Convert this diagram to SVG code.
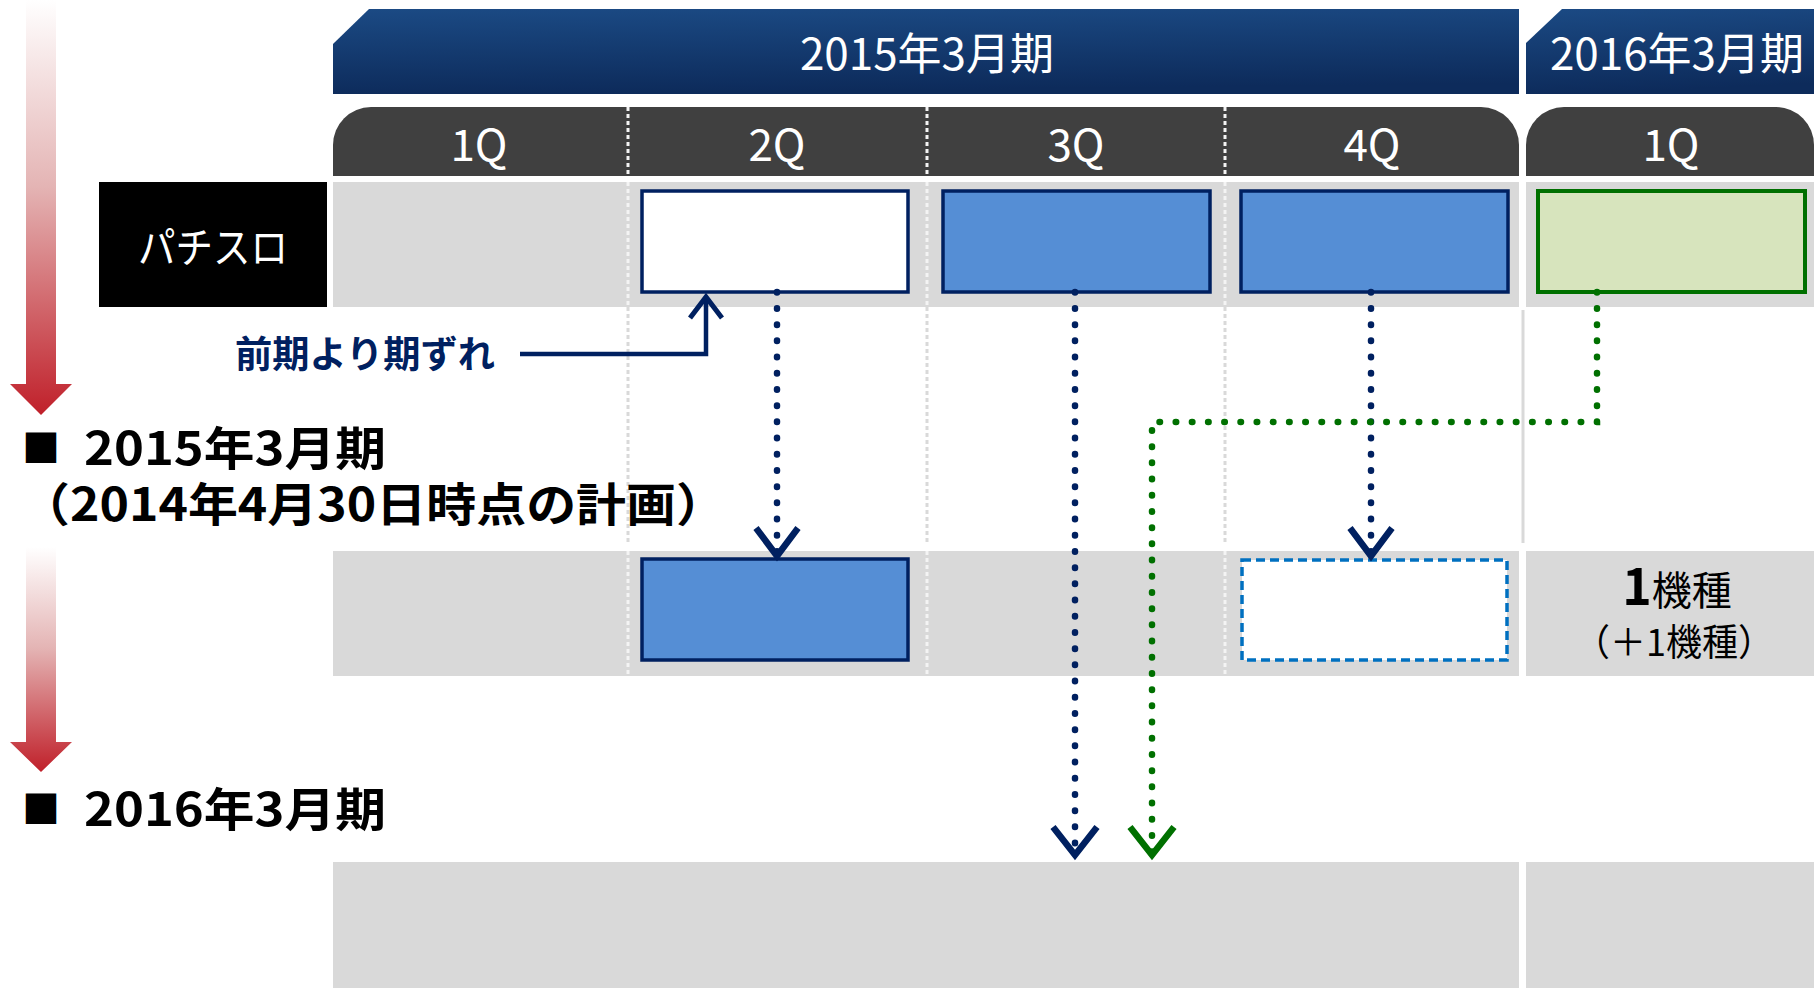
<svg xmlns="http://www.w3.org/2000/svg" width="1814" height="988" viewBox="0 0 1814 988">
  <defs>
    <linearGradient id="hdr" x1="0" y1="0" x2="0.15" y2="1">
      <stop offset="0" stop-color="#1b4a84"/>
      <stop offset="1" stop-color="#0d2b5b"/>
    </linearGradient>
    <linearGradient id="red" x1="0" y1="0" x2="0" y2="1">
      <stop offset="0" stop-color="#ffffff"/>
      <stop offset="0.45" stop-color="#e4b4b4"/>
      <stop offset="1" stop-color="#c0202a"/>
    </linearGradient>
    <style>
      .jp { font-family: "Noto Sans CJK JP", "Noto Sans", sans-serif; }
      .hdrtxt { fill: #ffffff; font-size: 44px; text-anchor: middle; }
      .qtxt { fill: #ffffff; font-size: 44px; text-anchor: middle; }
      .gray { fill: #d9d9d9; }
      .navybox { fill: #ffffff; stroke: #002060; stroke-width: 3.5; }
      .bluebox { fill: #558ed5; stroke: #002060; stroke-width: 3.5; }
      .greenbox { fill: #d7e4bd; stroke: #007000; stroke-width: 4; }
      .dashbox { fill: #ffffff; stroke: #0070c0; stroke-width: 3.5; stroke-dasharray: 9 5; }
      .divw { stroke: #f4f4f4; stroke-width: 3; stroke-dasharray: 4 3; fill: none; }
      .divg { stroke: #d9d9d9; stroke-width: 3; stroke-dasharray: 4 3; fill: none; }
      .dotn { stroke: #002060; stroke-width: 6.5; stroke-dasharray: 0.5 15.7; stroke-linecap: round; fill: none; }
      .dotg { stroke: #007000; stroke-width: 6.5; stroke-dasharray: 0.5 15.7; stroke-linecap: round; fill: none; }
      .chevn { stroke: #002060; stroke-width: 6.5; fill: none; stroke-linejoin: miter; }
      .chevg { stroke: #007000; stroke-width: 6.5; fill: none; stroke-linejoin: miter; }
      .head { font-weight: bold; font-size: 46px; fill: #000000; }
    </style>
  </defs>

  <rect width="1814" height="988" fill="#ffffff"/>

  <!-- red timeline arrows -->
  <g id="arrow-red-1">
    <path d="M26,0 L56,0 L56,384 L72,384 L41,415 L10,384 L26,384 Z" fill="url(#red)"/>
  </g>
  <g id="arrow-red-2">
    <path d="M26,547 L56,547 L56,742 L72,742 L41,772 L10,742 L26,742 Z" fill="url(#red)"/>
  </g>

  <!-- headers -->
  <g id="header-2015">
    <path d="M333,44 L369,9 L1519,9 L1519,94 L333,94 Z" fill="url(#hdr)"/>
    <text class="jp hdrtxt" x="927" y="70">2015年3月期</text>
  </g>
  <g id="header-2016">
    <path d="M1526,43 L1562,9 L1814,9 L1814,94 L1526,94 Z" fill="url(#hdr)"/>
    <text class="jp hdrtxt" x="1677" y="70">2016年3月期</text>
  </g>

  <!-- quarter bars -->
  <g id="quarters-2015">
    <path d="M333,176 L333,145 A38,38 0 0 1 371,107 L1481,107 A38,38 0 0 1 1519,145 L1519,176 Z" fill="#404040"/>
    <text class="jp qtxt" x="479" y="161">1Q</text>
    <text class="jp qtxt" x="777" y="161">2Q</text>
    <text class="jp qtxt" x="1076" y="161">3Q</text>
    <text class="jp qtxt" x="1372" y="161">4Q</text>
  </g>
  <g id="quarters-2016">
    <path d="M1526,176 L1526,145 A38,38 0 0 1 1564,107 L1776,107 A38,38 0 0 1 1814,145 L1814,176 Z" fill="#404040"/>
    <text class="jp qtxt" x="1671" y="161">1Q</text>
  </g>

  <!-- grid rows -->
  <g id="rows">
    <rect class="gray" x="333" y="182" width="1186" height="125"/>
    <rect class="gray" x="1526" y="182" width="288" height="125"/>
    <rect class="gray" x="333" y="551" width="1186" height="125"/>
    <rect class="gray" x="1526" y="551" width="288" height="125"/>
    <rect class="gray" x="333" y="862" width="1186" height="126"/>
    <rect class="gray" x="1526" y="862" width="288" height="126"/>
    <line x1="1523" y1="310" x2="1523" y2="543" stroke="#d9d9d9" stroke-width="3"/>
  </g>

  <!-- quarter dividers -->
  <g id="dividers">
    <path class="divw" d="M628,107 V176 M927,107 V176 M1225,107 V176"/>
    <path class="divw" d="M628,182 V307 M927,182 V307 M1225,182 V307"/>
    <path class="divg" d="M628,307 V545 M927,307 V545 M1225,307 V545"/>
    <path class="divw" d="M628,551 V676 M927,551 V676 M1225,551 V676"/>
  </g>

  <!-- row label -->
  <g id="label-pachislot">
    <rect x="99" y="182" width="228" height="125" fill="#000000"/>
    <text class="jp" x="138" y="263" font-size="42" fill="#ffffff" textLength="150" lengthAdjust="spacingAndGlyphs">パチスロ</text>
  </g>

  <!-- row 1 boxes -->
  <g id="box-2q">
    <rect class="navybox" x="642" y="191" width="266" height="101"/>
  </g>
  <g id="box-3q">
    <rect class="bluebox" x="943" y="191" width="267" height="101"/>
  </g>
  <g id="box-4q">
    <rect class="bluebox" x="1241" y="191" width="267" height="101"/>
  </g>
  <g id="box-1q-2016">
    <rect class="greenbox" x="1538" y="191" width="267" height="101"/>
  </g>

  <!-- row 2 boxes -->
  <g id="box-2q-plan">
    <rect class="bluebox" x="642" y="559" width="266" height="101"/>
  </g>
  <g id="box-4q-plan">
    <rect class="dashbox" x="1242" y="560" width="265" height="100"/>
  </g>
  <g id="count-1q-2016">
    <text class="jp" x="1677" y="605" text-anchor="middle" fill="#000000"><tspan font-size="50" font-weight="bold">1</tspan><tspan font-size="40">機種</tspan></text>
    <text class="jp" x="1574" y="656" font-size="37" fill="#000000" textLength="200" lengthAdjust="spacingAndGlyphs">（＋1機種）</text>
  </g>

  <!-- section headings -->
  <g id="heading-2015">
    <text class="jp" x="22" y="462" font-size="38" fill="#000000">■</text>
    <text class="jp head" x="84" y="465" textLength="302" lengthAdjust="spacingAndGlyphs">2015年3月期</text>
    <text class="jp head" x="20" y="521" textLength="706" lengthAdjust="spacingAndGlyphs">（2014年4月30日時点の計画）</text>
  </g>
  <g id="heading-2016">
    <text class="jp" x="22" y="823" font-size="38" fill="#000000">■</text>
    <text class="jp head" x="84" y="826" textLength="302" lengthAdjust="spacingAndGlyphs">2016年3月期</text>
  </g>

  <!-- callout -->
  <g id="callout">
    <text class="jp" x="235" y="368" font-size="37" font-weight="bold" fill="#002060" textLength="260" lengthAdjust="spacingAndGlyphs">前期より期ずれ</text>
  </g>

  <!-- connectors -->
  <g id="connectors">
    <path d="M520,354 L706,354 L706,297" fill="none" stroke="#002060" stroke-width="4.5"/>
    <path d="M690,318 L706,297 L722,318" fill="none" stroke="#002060" stroke-width="5"/>

    <path class="dotn" d="M777,292 L777,553"/>
    <path class="chevn" d="M756,528 L777,556 L798,528"/>

    <path class="dotn" d="M1075,292 L1075,852"/>
    <path class="chevn" d="M1053,827 L1075,855 L1097,827"/>

    <path class="dotn" d="M1371,292 L1371,553"/>
    <path class="chevn" d="M1350,528 L1371,556 L1392,528"/>

    <path class="dotg" d="M1597,292 L1597,422 L1152,422 L1152,852"/>
    <path class="chevg" d="M1130,827 L1152,855 L1174,827"/>
  </g>
</svg>
